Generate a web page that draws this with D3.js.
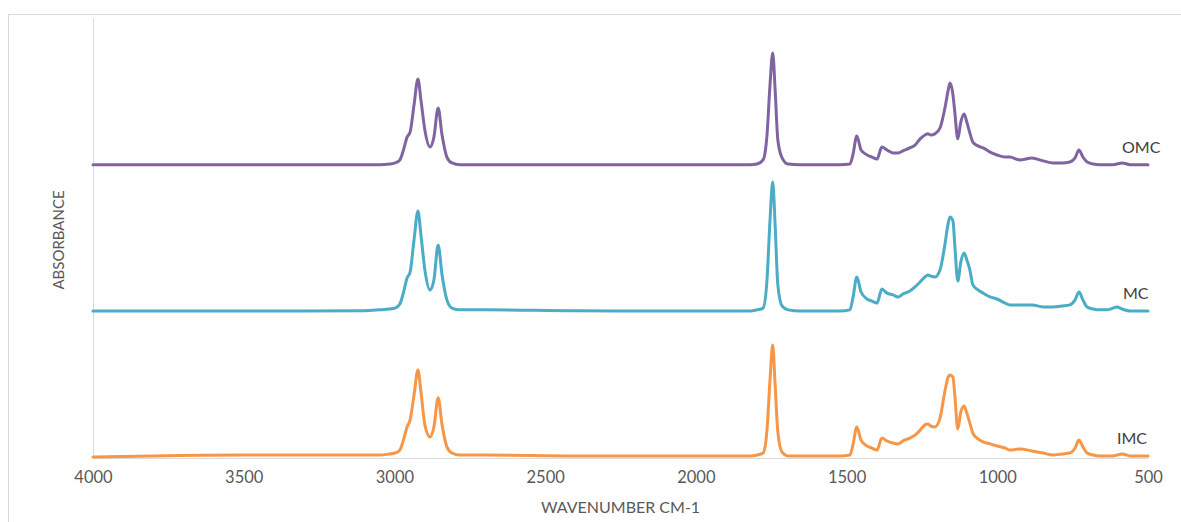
<!DOCTYPE html>
<html>
<head>
<meta charset="utf-8">
<script src="https://cdn.jsdelivr.net/npm/d3@7"></script>
<style>
  html, body { margin: 0; padding: 0; background: #fff; }
  svg { display: block; font-family: Lato, "Open Sans", sans-serif; }
</style>
</head>
<body>
<svg id="chart" width="1181" height="522"></svg>
<script>
// FTIR spectra (absorbance vs wavenumber) for three samples, stacked with vertical offsets.
const wavenumbers = [4000, 3800, 3500, 3300, 3100, 3050, 3015, 2998, 2982, 2972, 2958, 2948, 2935, 2922, 2912, 2899, 2882, 2869, 2855, 2842, 2826, 2809, 2782, 2700, 2400, 2000, 1850, 1820, 1797, 1777, 1764, 1754, 1745, 1737, 1728, 1714, 1694, 1655, 1580, 1522, 1489, 1479, 1466, 1452, 1432, 1416, 1399, 1383, 1366, 1346, 1329, 1313, 1290, 1273, 1256, 1240, 1230, 1220, 1207, 1190, 1173, 1164, 1157, 1147, 1141, 1131, 1121, 1110, 1101, 1091, 1081, 1064, 1047, 1024, 1001, 974, 958, 925, 885, 848, 815, 785, 759, 742, 729, 716, 702, 682, 659, 636, 616, 603, 586, 560, 527, 500];

const omcValues = [0.000, 0.000, 0.000, 0.000, 0.000, 0.000, 0.002, 0.006, 0.016, 0.043, 0.094, 0.111, 0.203, 0.292, 0.220, 0.118, 0.060, 0.094, 0.193, 0.101, 0.026, 0.006, 0.000, 0.000, 0.000, 0.000, 0.000, 0.000, 0.002, 0.016, 0.101, 0.272, 0.381, 0.255, 0.084, 0.023, 0.002, 0.000, 0.000, 0.000, 0.002, 0.033, 0.098, 0.050, 0.033, 0.026, 0.019, 0.060, 0.050, 0.040, 0.040, 0.047, 0.057, 0.067, 0.088, 0.101, 0.105, 0.101, 0.105, 0.125, 0.197, 0.248, 0.278, 0.238, 0.180, 0.088, 0.145, 0.173, 0.145, 0.108, 0.077, 0.064, 0.057, 0.043, 0.033, 0.026, 0.026, 0.016, 0.023, 0.013, 0.006, 0.006, 0.009, 0.023, 0.050, 0.026, 0.009, 0.002, 0.000, 0.000, 0.000, 0.002, 0.006, 0.000, 0.000, 0.000];

const mcValues = [0.001, 0.001, 0.001, 0.001, 0.002, 0.005, 0.008, 0.011, 0.025, 0.056, 0.114, 0.134, 0.243, 0.342, 0.260, 0.141, 0.073, 0.107, 0.226, 0.124, 0.039, 0.011, 0.005, 0.005, 0.002, 0.001, 0.001, 0.001, 0.005, 0.011, 0.107, 0.311, 0.441, 0.294, 0.090, 0.018, 0.005, 0.001, 0.001, 0.001, 0.005, 0.045, 0.117, 0.066, 0.042, 0.035, 0.028, 0.076, 0.062, 0.056, 0.049, 0.059, 0.069, 0.083, 0.100, 0.117, 0.124, 0.120, 0.117, 0.141, 0.233, 0.294, 0.322, 0.308, 0.226, 0.103, 0.168, 0.199, 0.175, 0.141, 0.090, 0.073, 0.062, 0.049, 0.042, 0.028, 0.022, 0.022, 0.022, 0.015, 0.015, 0.018, 0.022, 0.039, 0.066, 0.039, 0.015, 0.008, 0.005, 0.005, 0.011, 0.015, 0.008, 0.001, 0.001, 0.001];

const imcValues = [0.003, 0.007, 0.010, 0.010, 0.010, 0.010, 0.014, 0.017, 0.027, 0.055, 0.106, 0.130, 0.215, 0.300, 0.225, 0.113, 0.072, 0.106, 0.205, 0.113, 0.038, 0.017, 0.010, 0.010, 0.007, 0.007, 0.007, 0.007, 0.010, 0.017, 0.095, 0.266, 0.385, 0.249, 0.089, 0.020, 0.007, 0.007, 0.007, 0.007, 0.010, 0.044, 0.106, 0.061, 0.041, 0.034, 0.027, 0.068, 0.058, 0.051, 0.048, 0.058, 0.068, 0.078, 0.095, 0.113, 0.116, 0.109, 0.106, 0.136, 0.232, 0.273, 0.283, 0.276, 0.215, 0.099, 0.157, 0.177, 0.153, 0.119, 0.085, 0.065, 0.055, 0.048, 0.041, 0.034, 0.027, 0.031, 0.024, 0.017, 0.010, 0.014, 0.017, 0.034, 0.061, 0.038, 0.017, 0.010, 0.007, 0.007, 0.007, 0.010, 0.014, 0.007, 0.007, 0.007];

const seriesNames = ["IMC", "MC", "OMC"];
const seriesOffsets = [0, 0.5, 1.0];
const xTickValues = [4000, 3500, 3000, 2500, 2000, 1500, 1000, 500];
const xTitle = "WAVENUMBER CM-1";
const yTitle = "ABSORBANCE";

const series = [
  { name: seriesNames[0], offset: seriesOffsets[0], values: imcValues, color: "#f79646", labelDx: -31, labelDy: -14 },
  { name: seriesNames[1], offset: seriesOffsets[1], values: mcValues,  color: "#4bacc6", labelDx: -25, labelDy: -12 },
  { name: seriesNames[2], offset: seriesOffsets[2], values: omcValues, color: "#8064a2", labelDx: -26, labelDy: -12 }
];

const svg = d3.select("#chart");

// chart area frame
svg.append("rect")
  .attr("x", 8.5).attr("y", 14.5)
  .attr("width", 1200).attr("height", 520)
  .attr("fill", "#fff")
  .attr("stroke", "#d9d9d9").attr("stroke-width", 1);

const x = d3.scaleLinear().domain([4000, 500]).range([93, 1148]);
const y = d3.scaleLinear().domain([0, 1.5]).range([458, 18]);

// vertical axis line (no ticks)
const yAxis = svg.append("g").attr("transform", `translate(${x(4000)},0)`)
  .call(d3.axisLeft(y).tickValues([]).tickSizeOuter(0));
yAxis.select(".domain").attr("stroke", "#d9d9d9").attr("stroke-width", 1);

// horizontal axis
const xAxis = svg.append("g").attr("transform", `translate(0,${y(0)})`)
  .call(d3.axisBottom(x).tickValues(xTickValues).tickSize(0).tickPadding(13).tickFormat(d3.format("d")));
xAxis.select(".domain").attr("stroke", "#d9d9d9").attr("stroke-width", 1);
xAxis.selectAll(".tick text")
  .attr("fill", "#595959")
  .style("font-size", "16.5px")
  .style("font-family", "Lato, sans-serif");

// axis titles
svg.append("text")
  .attr("x", (x(4000) + x(500)) / 2)
  .attr("y", 513)
  .attr("text-anchor", "middle")
  .attr("fill", "#595959")
  .style("font-size", "16px")
  .text(xTitle);

svg.append("text")
  .attr("transform", `translate(64,${(y(0) + y(1.5)) / 2 + 2}) rotate(-90)`)
  .attr("text-anchor", "middle")
  .attr("fill", "#595959")
  .style("font-size", "15px")
  .text(yTitle);

// spectra
const line = d3.line()
  .x(d => x(d.wn))
  .y(d => y(d.v))
  .curve(d3.curveMonotoneX);

series.forEach(s => {
  const pts = wavenumbers.map((wn, i) => ({ wn, v: s.values[i] + s.offset }));
  svg.append("path")
    .datum(pts)
    .attr("fill", "none")
    .attr("stroke", s.color)
    .attr("stroke-width", 3)
    .attr("stroke-linejoin", "round")
    .attr("stroke-linecap", "round")
    .attr("d", line);

  svg.append("text")
    .attr("x", x(500) + s.labelDx)
    .attr("y", y(s.offset) + s.labelDy)
    .attr("fill", "#404040")
    .style("font-size", "16px")
    .text(s.name);
});
</script>
</body>
</html>
